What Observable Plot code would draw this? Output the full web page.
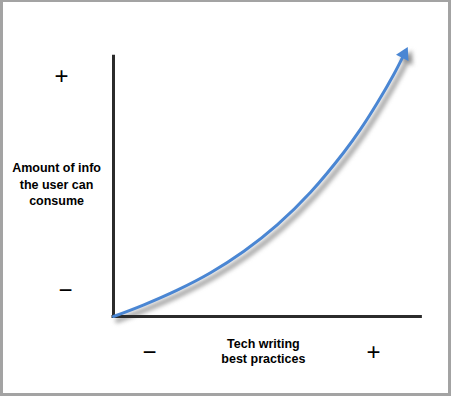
<!DOCTYPE html>
<html>
<head>
<meta charset="utf-8">
<script src="https://cdn.jsdelivr.net/npm/d3@7"></script>
<script src="https://cdn.jsdelivr.net/npm/@observablehq/plot@0.6"></script>
<style>
  html, body { margin: 0; padding: 0; background: white; }
  #wrap { position: relative; width: 451px; height: 397px; }
  #wrap svg { position: absolute; left: 0; top: 0; }
  #frame { position: absolute; left: 0; top: 0; width: 451px; height: 396px; box-sizing: border-box;
           border-style: solid; border-color: #a3a3a3; border-width: 2px 3px 3px 3px; pointer-events: none; }
</style>
</head>
<body>
<div id="wrap"><div id="frame"></div></div>
<script>
// Curve (abstract units 0..100 on both axes)
const curveX = [0, 10.3, 21.6, 32.9, 44.2, 55.5, 66.8, 78.1, 83.7, 89.4, 95.0, 98.5];
const curveY = [0, 4.3, 9.7, 16.1, 24.0, 33.7, 45.7, 60.4, 68.8, 78.5, 89.0, 96.4];
const curve = curveX.map((x, i) => ({x, y: curveY[i]}));
const arrowTip = [curve[curve.length - 1]];

// Axis extents
const xAxisEnd = 104.2;
const yAxisEnd = 95.5;

// Labels
const yTickLabels = ["+", "−"];
const yTickValues = [88.2, 9.6];
const yTickX = [-17.6, -16.3];
const xTickLabels = ["−", "+"];
const xTickValues = [12.2, 88.1];
const yTitle = "Amount of info\nthe user can\nconsume";
const xTitle = "Tech writing\nbest practices";

const blue = "#4a86d3";
const shadow = "#7f7f7f";

const yTicks = yTickLabels.map((t, i) => ({t, y: yTickValues[i], x: yTickX[i]}));
const xTicks = xTickLabels.map((t, i) => ({t, x: xTickValues[i]}));

const chart = Plot.plot({
  width: 451,
  height: 397,
  marginLeft: 113,
  marginRight: 43,
  marginTop: 44,
  marginBottom: 81,
  x: {domain: [0, 100], axis: null},
  y: {domain: [0, 100], axis: null},
  style: {fontFamily: "'Liberation Sans', Arial, sans-serif", background: "transparent", overflow: "visible"},
  marks: [
    // shadow
    Plot.line(curve, {x: "x", y: "y", curve: "catmull-rom", stroke: shadow, strokeWidth: 5, strokeOpacity: 0.7, dx: 4, dy: 4}),
    Plot.dot(arrowTip, {x: "x", y: "y", symbol: "triangle", r: 5.6, rotate: 27, fill: shadow, fillOpacity: 0.7, stroke: "none", dx: 4, dy: 4}),
    // axes
    Plot.ruleX([0], {y1: 0, y2: yAxisEnd, stroke: "#2b2b2b", strokeWidth: 3, strokeLinecap: "square"}),
    Plot.ruleY([0], {x1: 0, x2: xAxisEnd, stroke: "#2b2b2b", strokeWidth: 3, strokeLinecap: "square"}),
    // curve
    Plot.line(curve, {x: "x", y: "y", curve: "catmull-rom", stroke: blue, strokeWidth: 3}),
    Plot.dot(arrowTip, {x: "x", y: "y", symbol: "triangle", r: 5.2, rotate: 27, fill: blue, stroke: "none"}),
    // tick labels
    Plot.text(yTicks, {x: "x", y: "y", text: "t", fontSize: 24, fill: "#000"}),
    Plot.text(xTicks, {x: "x", y: -13.1, text: "t", fontSize: 24, fill: "#000"}),
    // titles
    Plot.text([yTitle], {x: -19.3, y: 48.9, text: d => d, fontSize: 12.5, fontWeight: "bold", lineHeight: 1.33, fill: "#000"}),
    Plot.text([xTitle], {x: 50.8, y: -12.5, text: d => d, fontSize: 12.5, fontWeight: "bold", lineHeight: 1.25, fill: "#000"})
  ]
});

chart.querySelectorAll(`[stroke="${shadow}"], [fill="${shadow}"]`).forEach(g => {
  g.style.filter = "blur(2px)";
});

document.getElementById("wrap").insertBefore(chart, document.getElementById("frame"));
</script>
</body>
</html>
